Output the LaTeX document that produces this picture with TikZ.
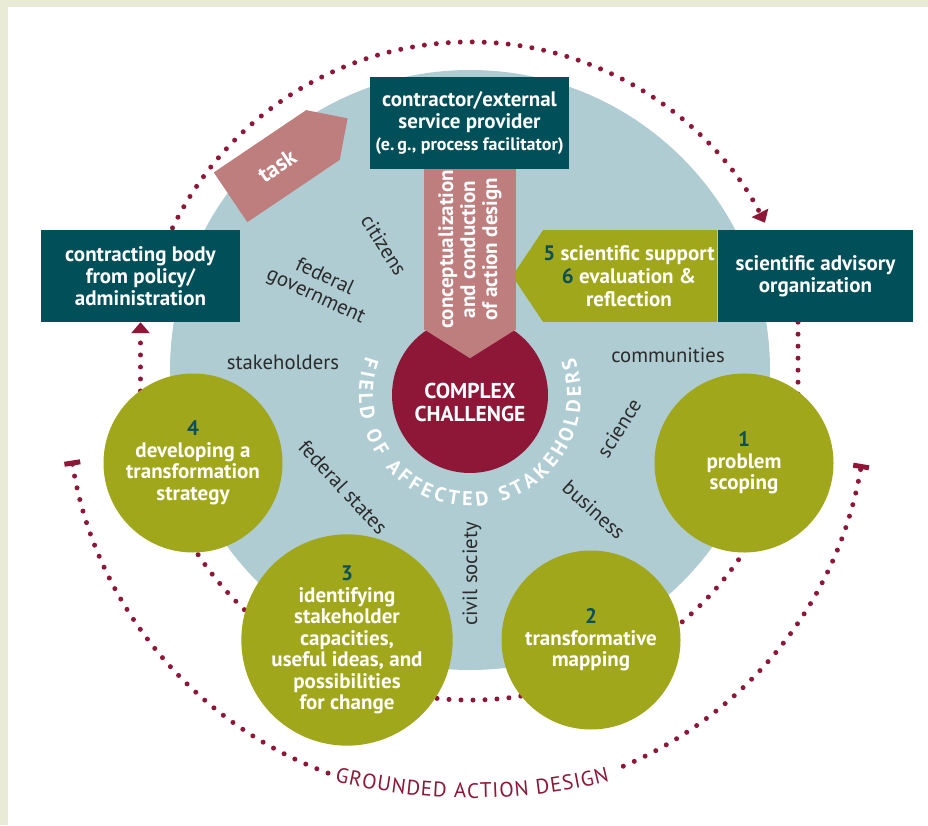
\documentclass[tikz,border=0pt]{standalone}
\usepackage{fontspec}
\setmainfont{PT Sans}
\usepackage{tikz}
\usetikzlibrary{positioning, arrows.meta, decorations.text}

\definecolor{boxteal}{HTML}{004F59}
\definecolor{stepolive}{HTML}{A0A71B}
\definecolor{fieldblue}{HTML}{AFCCD3}
\definecolor{rosy}{HTML}{BF7E7E}
\definecolor{ddred}{HTML}{8E1737}
\definecolor{numteal}{HTML}{0B4F5B}
\definecolor{framebeige}{HTML}{E9EBD6}
\definecolor{actorgrey}{HTML}{2B2B2B}

\newcommand{\stepno}[1]{{\color{numteal}#1}}

\pgfdeclarelayer{field}
\pgfdeclarelayer{paths}
\pgfsetlayers{field,paths,main}

\begin{document}
\begin{tikzpicture}[x=1pt, y=1pt,
  orgbox/.style={rectangle, fill=boxteal, text=white, minimum height=92pt, align=center, inner sep=0pt, font=\bfseries\fontsize{21}{22}\selectfont},
  phase/.style={circle, fill=stepolive, text=white, minimum size=179pt, inner sep=0pt, align=center, font=\bfseries\fontsize{21}{21.5}\selectfont},
  pointer/.style={rectangle, fill=rosy, text=white, inner sep=0pt, align=center, font=\bfseries\fontsize{21}{22}\selectfont},
  actor/.style={text=actorgrey, align=center, inner sep=0pt, font=\fontsize{20.7}{21}\selectfont},
  cycleline/.style={draw=ddred, line width=5pt, line cap=round, dash pattern=on 0pt off 12pt},
  headtip/.style={-{Triangle[width=18pt, length=11pt]}},
  endbar/.tip={Bar[width=16pt, line width=5pt]}
]
\useasboundingbox (0,0) rectangle (928,825);

% ===== Page and stakeholder field =====
\begin{pgfonlayer}{field}
\fill[framebeige] (0,0) rectangle (928,825);
\fill[white] (8,0) rectangle (928,818);
\node[circle, fill=fieldblue, minimum size=600pt, inner sep=0pt] (field) at (470,455) {};
\end{pgfonlayer}

\coordinate (hub) at (470,452);
\coordinate (low) at (467,427);
\coordinate (gad) at (472,595);

% ===== Process steps =====
\node[phase] (scoping)    at (744,362) {\stepno{1}\\problem\\scoping};
\node[phase] (mapping)    at (591,185) {\stepno{2}\\transformative\\mapping};
\node[phase] (capacities) at (347,185) {\stepno{3}\\identifying\\stakeholder\\capacities,\\useful ideas, and\\possibilities\\for change};
\node[phase] (strategy)   at (193,362) {\stepno{4}\\developing a\\transformation\\strategy};

% ===== Complex challenge and design arrow =====
\node[circle, fill=ddred, minimum size=156pt, inner sep=0pt] (challenge) at (470,430) {};
\node[text=white, align=center, font=\bfseries\fontsize{21.5}{23}\selectfont] (challengetext) at (470,423) {COMPLEX\\CHALLENGE};

\node[pointer, rotate=90, minimum width=161pt, minimum height=92pt] (concept) at (470,575.5) {conceptualization\\and conduction\\of action design};
\fill[rosy] ([yshift=1pt]concept.north west) -- ([yshift=-28pt]concept.west) -- ([yshift=1pt]concept.south west) -- cycle;

\node[orgbox, minimum width=199pt] (contractor) at (469.5,702) {contractor/external\\service provider\\{\fontsize{18}{22}\selectfont(e.\,g., process facilitator)}};

% task handed to the contractor
\node[pointer, rotate=34, minimum width=112pt, minimum height=60pt, font=\bfseries\fontsize{23}{23}\selectfont] (task) at (277,659) {task};
\fill[rosy] ([shift={(214:1)}]task.north east) -- ([shift={(34:29)}]task.east) -- ([shift={(214:1)}]task.south east) -- cycle;

% ===== Policy and science =====
\node[orgbox, minimum width=199pt] (policy)   at (140.5,549) {contracting body\\from policy/\\administration};
\node[orgbox, minimum width=195pt] (advisory) at (815.5,549) {scientific advisory\\organization};
\node[rectangle, fill=stepolive, text=white, minimum width=173pt, minimum height=92pt, inner sep=0pt, align=center, font=\bfseries\fontsize{21}{23}\selectfont] (support) at (629,549) {\stepno{5} scientific support\\\stepno{6} evaluation \&\\reflection};

% ===== Dotted cycle =====
\begin{pgfonlayer}{paths}
\fill[stepolive] ([xshift=1pt]support.north west) -- ([xshift=-30pt]support.west) -- ([xshift=1pt]support.south west) -- cycle;
\fill[stepolive] (support.north east) rectangle ([xshift=-1pt]advisory.south west);
\draw[cycleline] ([shift={(-18:327)}]hub) arc[start angle=-18, end angle=-162, radius=327];
\draw[cycleline, headtip] (policy.south |- strategy.center) -- (policy.south);
\draw[cycleline] ([xshift=-17.5pt]advisory.south) -- ([xshift=-17.5pt]advisory.south |- scoping.center);
\draw[cycleline, headtip] ([shift={(154:331)}]hub) arc[start angle=154, end angle=27, radius=331];
\draw[cycleline, endbar-] ([shift={(189:400)}]low) arc[start angle=189, end angle=250, radius=400];
\draw[cycleline, -endbar] ([shift={(293:400)}]low) arc[start angle=293, end angle=350.5, radius=400];
\end{pgfonlayer}

\path[decorate, decoration={text along path, text align=fit to path,
  text={|\color{ddred}\fontsize{21}{21}\selectfont|GROUNDED ACTION DESIGN}}]
  ([shift={(-104:568)}]gad) arc[start angle=-104, end angle=-76, radius=568];

% ===== Stakeholders in the field =====
\path[decorate, decoration={text along path, text align=fit to path,
  text={|\color{white}\bfseries\fontsize{20}{20}\selectfont|FIELD OF AFFECTED STAKEHOLDERS}}]
  ([shift={(160:111)}]challenge.center) arc[start angle=160, end angle=380, radius=111];

\node[actor, rotate=-58] (citizens)     at (384,580) {citizens};
\node[actor, rotate=-25] (government)   at (320,538) {federal\\government};
\node[actor]             (stakeholders) at (283,463) {stakeholders};
\node[actor]             (communities)  at (668,470) {communities};
\node[actor, rotate=58]  (science)      at (619,397) {science};
\node[actor, rotate=-42] (business)     at (594,315) {business};
\node[actor, rotate=-47] (states)       at (343,338) {federal states};
\node[actor, rotate=90]  (civil)        at (472,251) {civil society};

\end{tikzpicture}
\end{document}
